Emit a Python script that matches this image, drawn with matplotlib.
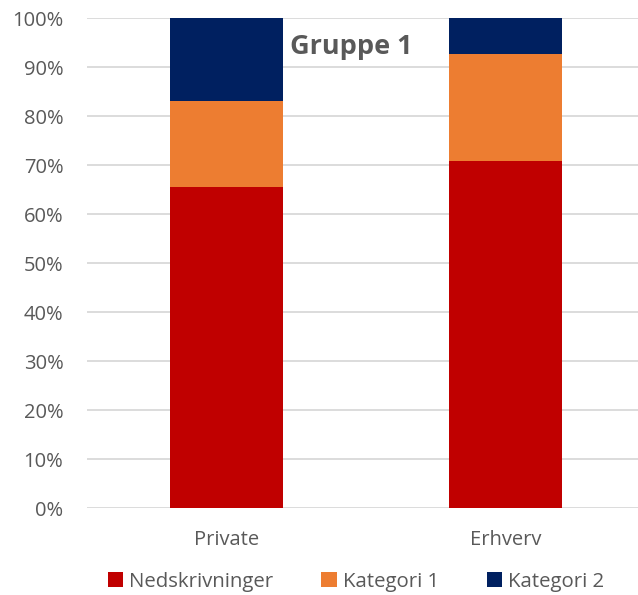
import matplotlib
matplotlib.use("Agg")
import matplotlib.pyplot as plt
import numpy as np
from matplotlib.patches import Patch
from matplotlib.ticker import PercentFormatter

categories = ["Private", "Erhverv"]
series_names = ["Nedskrivninger", "Kategori 1", "Kategori 2"]
nedskrivninger = [65.6, 70.8]
kategori_1 = [17.5, 22.0]
kategori_2 = [16.9, 7.2]
y_ticks = [0, 10, 20, 30, 40, 50, 60, 70, 80, 90, 100]
title_text = "Gruppe 1"

colors = ["#C00000", "#ED7D31", "#002060"]
text_gray = "#595959"
grid_gray = "#D9D9D9"

plt.rcParams["font.family"] = ["Open Sans", "DejaVu Sans"]

W, H = 638, 595
fig = plt.figure(figsize=(W / 100, H / 100), dpi=100)
left, right, top, bottom = 87, 645, 18.3, 508
ax = fig.add_axes([left / W, 1 - bottom / H, (right - left) / W, (bottom - top) / H])

x = np.arange(len(categories))
width = 0.405
base = np.zeros(len(categories))
for vals, col in zip([nedskrivninger, kategori_1, kategori_2], colors):
    ax.bar(x, vals, width, bottom=base, color=col, zorder=3)
    base += np.array(vals)

ax.set_xlim(-0.5, 1.5)
ax.set_ylim(0, 100)
ax.set_yticks(y_ticks)
ax.yaxis.set_major_formatter(PercentFormatter(decimals=0))
ax.set_xticks(x)
ax.set_xticklabels(categories)
ax.tick_params(axis="both", length=0, labelsize=14.5, colors=text_gray)
ax.tick_params(axis="y", pad=17)
ax.tick_params(axis="x", pad=16)
ax.grid(axis="y", color=grid_gray, linewidth=1.3, zorder=0)
for s in ax.spines.values():
    s.set_visible(False)

fig.text(351 / W, 1 - 47 / H, title_text, ha="center", va="center",
         fontsize=19.5, fontweight="bold", color=text_gray)

handles = [Patch(facecolor=c, edgecolor="none") for c in colors]
fig.legend(handles, series_names, loc="center", bbox_to_anchor=(356 / W, 1 - 582 / H),
           ncol=3, frameon=False, fontsize=14.7, labelcolor=text_gray,
           handlelength=0.75, handleheight=0.75, handletextpad=0.3, columnspacing=2.35,
           borderpad=0, borderaxespad=0)

fig.savefig("out.png", dpi=100)
